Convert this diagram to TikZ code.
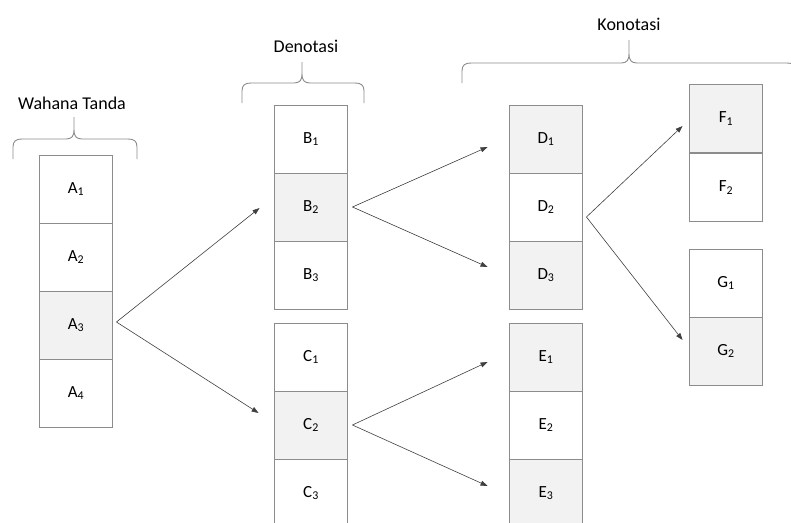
\documentclass[tikz,border=0pt]{standalone}
\usepackage{fontspec}
\setmainfont{Carlito}
\usetikzlibrary{arrows.meta}
\definecolor{garis}{HTML}{8C8C8C}
\definecolor{abu}{HTML}{F2F2F2}
\tikzset{
  sel/.style={draw=garis, line width=0.9pt, minimum width=73pt, minimum height=68pt, inner sep=0pt, font=\fontsize{17}{20}\selectfont},
  panah/.style={-{Triangle[length=7pt,width=5pt]}, draw=black!75, line width=0.6pt},
  kurung/.style={draw=garis, line width=0.9pt},
  judul/.style={font=\fontsize{18}{21}\selectfont}
}
\begin{document}
\begin{tikzpicture}[x=1pt,y=-1pt]
  \useasboundingbox (0,0) rectangle (791,522);

  % Judul
  \node[judul] (wahana) at (72,103) {Wahana Tanda};
  \node[judul] (denotasi) at (306,46) {Denotasi};
  \node[judul] (konotasi) at (629,24) {Konotasi};

  % Kurung kurawal
  \foreach \a/\m/\b/\y/\t in {13/74/137/139/117, 242/302/364/83/62, 462/629/796/63/40}
    \draw[kurung] (\a,\y+20) -- (\a,\y+8) .. controls (\a,\y+2) and (\a+3,\y) .. (\a+9,\y)
      -- (\m-8,\y) .. controls (\m-2,\y) and (\m,\y-3) .. (\m,\y-9) -- (\m,\t)
      -- (\m,\y-9) .. controls (\m,\y-3) and (\m+2,\y) .. (\m+8,\y)
      -- (\b-9,\y) .. controls (\b-3,\y) and (\b,\y+2) .. (\b,\y+8) -- (\b,\y+20);

  % Kolom
  \foreach \i/\w in {1/white,2/white,3/abu,4/white}
    \node[sel, fill=\w] (A\i) at (76,121+68*\i) {A\textsubscript{\i}};
  \foreach \i/\w in {1/white,2/abu,3/white}
    \node[sel, fill=\w] (B\i) at (311,71+68*\i) {B\textsubscript{\i}};
  \foreach \i/\w in {1/white,2/abu,3/white}
    \node[sel, fill=\w] (C\i) at (311,289+68*\i) {C\textsubscript{\i}};
  \foreach \i/\w in {1/abu,2/white,3/abu}
    \node[sel, fill=\w] (D\i) at (546,71+68*\i) {D\textsubscript{\i}};
  \foreach \i/\w in {1/abu,2/white,3/abu}
    \node[sel, fill=\w] (E\i) at (546,289+68*\i) {E\textsubscript{\i}};
  \foreach \i/\w in {1/abu,2/white}
    \node[sel, fill=\w] (F\i) at (726,49.5+69*\i) {F\textsubscript{\i}};
  \foreach \i/\w in {1/white,2/abu}
    \node[sel, fill=\w] (G\i) at (726,215+68*\i) {G\textsubscript{\i}};

  % Panah
  \draw[panah] ([xshift=3.5pt,yshift=3pt]A3.east) -- ([xshift=-14.5pt,yshift=-1pt]B2.west);
  \draw[panah] ([xshift=3.5pt,yshift=3pt]A3.east) -- ([xshift=-15.5pt,yshift=12pt]C2.west);
  \draw[panah] ([xshift=4.5pt]B2.east) -- ([xshift=-21.5pt,yshift=-8pt]D1.west);
  \draw[panah] ([xshift=4.5pt]B2.east) -- ([xshift=-21.5pt,yshift=8pt]D3.west);
  \draw[panah] ([xshift=4.5pt]C2.east) -- ([xshift=-21.5pt,yshift=-5pt]E1.west);
  \draw[panah] ([xshift=4.5pt]C2.east) -- ([xshift=-21.5pt,yshift=7pt]E3.west);
  \draw[panah] ([xshift=3.5pt,yshift=-10pt]D2.east) -- ([xshift=-6.5pt,yshift=-7.5pt]F1.west);
  \draw[panah] ([xshift=3.5pt,yshift=-10pt]D2.east) -- ([xshift=-6.5pt,yshift=11pt]G2.west);
\end{tikzpicture}
\end{document}
